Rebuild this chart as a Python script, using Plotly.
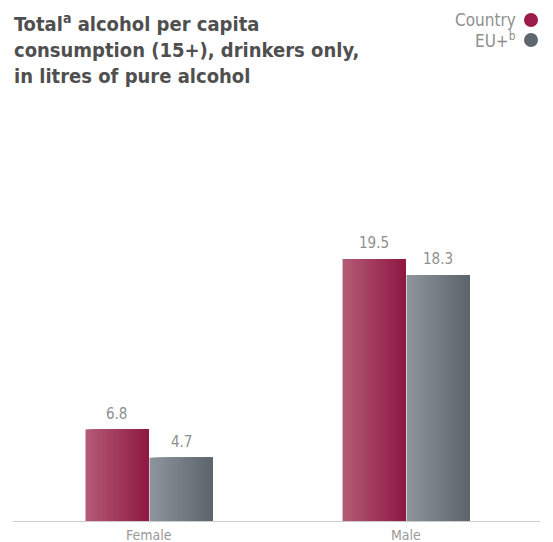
import plotly.graph_objects as go

categories = ["Female", "Male"]
country_values = [6.8, 19.5]
eu_values = [4.7, 18.3]
series_names = ["Country", "EU+<sup>b</sup>"]

W, H = 553, 542
ML, MR, MT, MB = 13, 13, 100, 21
PW, PH = W - ML - MR, H - MT - MB
px_per_unit = 13.44
ymax = PH / px_per_unit

FONT = "'DejaVu Sans Condensed', 'Liberation Sans Narrow', sans-serif"

x_pos = [0, 1]
bar_w = 0.245
gap = 0.002

def lerp(c1, c2, t):
    return "rgb(%d,%d,%d)" % tuple(round(a + (b - a) * t) for a, b in zip(c1, c2))

series = [
    (country_values, -bar_w - gap, (180, 92, 118), (142, 24, 66)),
    (eu_values, gap, (142, 149, 157), (92, 100, 108)),
]

fig = go.Figure()
N = 32
for vals, off, c_left, c_right in series:
    sw = bar_w / N
    for i in range(N):
        fig.add_trace(go.Bar(
            x=x_pos, y=vals, offset=off + i * sw,
            width=bar_w - i * sw, textposition="none",
            marker=dict(color=lerp(c_left, c_right, (i + 0.5) / N), line=dict(width=0)),
            showlegend=False, hoverinfo="skip",
        ))
    for xp, v in zip(x_pos, vals):
        fig.add_annotation(
            x=xp + off + bar_w / 2, xref="x", y=v, yref="y",
            yanchor="bottom", yshift=5, showarrow=False, text=f"{v:.1f}",
            font=dict(family=FONT, size=15, color="#8f8f8f"),
        )

fig.update_layout(
    width=W, height=H, barmode="overlay",
    margin=dict(l=ML, r=MR, t=MT, b=MB),
    paper_bgcolor="white", plot_bgcolor="white",
    xaxis=dict(range=[-0.529, 1.521], tickvals=x_pos, showticklabels=False,
               showgrid=False, zeroline=False, showline=True, linecolor="#cccccc", linewidth=1,
               ticks="", automargin=False, fixedrange=True),
    yaxis=dict(range=[0, ymax], visible=False, fixedrange=True),
    font=dict(family=FONT),
)

for xp, cat in zip(x_pos, categories):
    fig.add_annotation(
        x=xp, xref="x", y=0, yref="paper", yanchor="top", yshift=-4,
        showarrow=False, text=cat,
        font=dict(family=FONT, size=14, color="#9a9a9a"),
    )

fig.add_annotation(
    xref="paper", yref="paper", x=(12 - ML) / PW, y=1 + (MT - 8) / PH,
    xanchor="left", yanchor="top", align="left", showarrow=False,
    text="<b>Total<sup>a</sup> alcohol per capita<br>consumption (15+), drinkers only,<br>in litres of pure alcohol</b>",
    font=dict(family=FONT, size=20, color="#4f4f4f"),
)

legend_colors = ["#9b1b4a", "#5e666e"]
for i, (name, col) in enumerate(zip(series_names, legend_colors)):
    ypix = 20 + i * 20
    yp = 1 + (MT - ypix) / PH
    fig.add_annotation(
        xref="paper", yref="paper", x=(518 - ML) / PW, y=yp,
        xanchor="right", yanchor="middle", showarrow=False, text=name,
        font=dict(family=FONT, size=17, color="#8f8f8f"),
    )
    fig.add_shape(
        type="circle", xref="paper", yref="paper",
        x0=(524 - ML) / PW, x1=(538 - ML) / PW,
        y0=1 + (MT - ypix - 7) / PH, y1=1 + (MT - ypix + 7) / PH,
        fillcolor=col, line=dict(width=0),
    )

fig.write_html("out.html", config={"displayModeBar": False},
               post_script="document.body.style.margin='0px';")
